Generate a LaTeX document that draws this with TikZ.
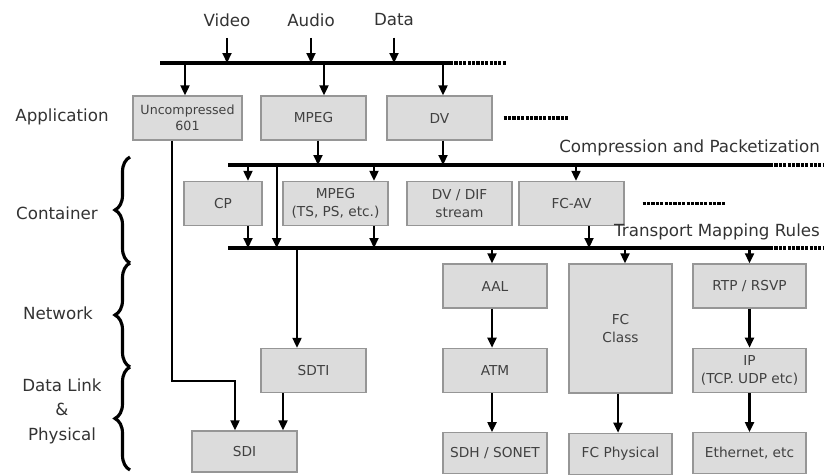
\documentclass[tikz,border=0pt]{standalone}
\usepackage{fontspec}
\setmainfont{DejaVu Sans}
\usepackage{xcolor}
\usetikzlibrary{arrows.meta,positioning,decorations.pathreplacing}
\definecolor{boxgray}{RGB}{220,220,220}
\definecolor{edgegray}{RGB}{150,150,150}
\definecolor{textgray}{RGB}{65,65,65}

\begin{document}
\begin{tikzpicture}[
  x=0.02cm,y=-0.02cm,
  node distance=0.78cm,
  box/.style={draw=edgegray,line width=0.8pt,fill=boxgray,align=center,
              minimum width=2.1cm,minimum height=0.88cm,inner sep=1pt,
              text=textgray,font=\fontsize{7.8}{10}\selectfont},
  lowbox/.style={box,minimum height=0.82cm},
  lbl/.style={text=black!80,align=center,font=\fontsize{9.5}{11}\selectfont},
  bus/.style={line width=2pt},
  etcline/.style={line width=2.2pt,dash pattern=on 1.8pt off 0.7pt},
  arr/.style={line width=1.2pt,-{Triangle[length=2mm,width=1.8mm]}},
  brc/.style={line width=1.8pt,decorate,decoration={brace,amplitude=0.3cm}},
  >=Latex]
\useasboundingbox (0,0) rectangle (830,474);
\node[lbl] (video) at (227,20) {Video};
\node[lbl] (audio) at (311,20) {Audio};
\node[lbl] (data) at (394,20) {Data};
\node[lbl] (app) at (62,117) {Application};
\node[lbl] (cont) at (57,213) {Container};
\node[lbl] (net) at (58,313) {Network};
\node[lbl,font=\fontsize{9.5}{14}\selectfont] (dlp) at (62,411) {Data Link\\\&\\Physical};
\node[box,minimum width=2.18cm,font=\fontsize{7.2}{9}\selectfont] (unc) at (187.5,118) {Uncompressed\\601};
\node[box] (mpega) at (313.5,118) {MPEG};
\node[box] (dv) at (439.5,118) {DV};
\node[box,minimum width=1.56cm] (cp) at (223,203.5) {CP};
\node[box] (mpegb) at (335.5,203.5) {MPEG\\(TS, PS, etc.)};
\node[box] (dvdif) at (459.5,203.5) {DV / DIF\\stream};
\node[box] (fcav) at (571.5,203.5) {FC-AV};
\node[box,minimum width=2.08cm] (aal) at (495,286) {AAL};
\node[box,minimum width=2.08cm,below=of aal] (atm) {ATM};
\node[lowbox,minimum width=2.08cm,below=of atm] (sdh) {SDH / SONET};
\node[box,minimum width=2.06cm,minimum height=2.58cm] (fcclass) at (620.5,328.5) {FC\\Class};
\node[lowbox,minimum width=2.06cm,below=of fcclass] (fcphys) {FC Physical};
\node[box,minimum width=2.26cm] (rtp) at (749.5,286) {RTP / RSVP};
\node[box,minimum width=2.26cm,below=of rtp] (ip) {IP\\(TCP. UDP etc)};
\node[lowbox,minimum width=2.26cm,below=of ip] (eth) {Ethernet, etc};
\node[box] (sdti) at (313.5,370.5) {SDTI};
\node[lowbox] (sdi) at (244.5,451.5) {SDI};
\node[lbl,anchor=east] (comp) at (826,148) {Compression and Packetization};
\node[lbl,anchor=east] (tmr) at (826,232) {Transport Mapping Rules};
\coordinate (tb0) at (160,63);
\coordinate (tb1) at (450,63);
\coordinate (cb0) at (228,165);
\coordinate (cb1) at (770,165);
\coordinate (mb0) at (228,248);
\coordinate (mb1) at (770,248);
\coordinate (bend) at (235,381);
\coordinate (l0) at (130,157);
\coordinate (l1) at (130,263);
\coordinate (l2) at (130,367);
\coordinate (l3) at (130,470);
\draw[bus] (tb0) -- (tb1);
\draw[bus] (cb0) -- (cb1);
\draw[bus] (mb0) -- (mb1);
\draw[etcline] (tb1) -- ++(57,0);
\draw[etcline] (cb1) -- ++(54,0);
\draw[etcline] (mb1) -- ++(54,0);
\draw[etcline] ([xshift=0.22cm]dv.east) -- ++(64,0);
\draw[etcline] ([xshift=0.36cm]fcav.east) -- ++(82,0);
\foreach \n in {video,audio,data}
  \draw[arr] ([yshift=-3pt]\n.south) -- (\n.south |- tb0);
\foreach \n/\s in {unc/-0.05,mpega/0.21,dv/0.07}
  \draw[arr] ([xshift=\s cm]\n.north |- tb0) -- ([xshift=\s cm]\n.north);
\foreach \n/\s in {mpega/0.09,dv/0.07}
  \draw[arr] ([xshift=\s cm]\n.south) -- ([xshift=\s cm]\n.south |- cb0);
\foreach \n/\s in {cp/0.5,mpegb/0.77,fcav/0.09}
  \draw[arr] ([xshift=\s cm]\n.north |- cb0) -- ([xshift=\s cm]\n.north);
\foreach \n/\s in {cp/0.5,mpegb/0.77,fcav/0.35}
  \draw[arr] ([xshift=\s cm]\n.south) -- ([xshift=\s cm]\n.south |- mb0);
\draw[arr] ([xshift=0.28cm]cp.east |- cb0) -- ([xshift=0.28cm]cp.east |- mb0);
\foreach \n/\s in {sdti/-0.33,aal/-0.06,fcclass/0.09,rtp/0}
  \draw[arr] ([xshift=\s cm]\n.north |- mb0) -- ([xshift=\s cm]\n.north);
\draw[arr] ([xshift=-0.06cm]aal.south) -- ([xshift=-0.06cm]atm.north);
\draw[arr] ([xshift=-0.06cm]atm.south) -- ([xshift=-0.06cm]sdh.north);
\draw[arr] ([xshift=-0.05cm]fcclass.south) -- ([xshift=-0.05cm]fcphys.north);
\draw[arr] (rtp) -- (ip);
\draw[arr] (ip) -- (eth);
\draw[arr] ([xshift=-0.61cm]sdti.south) -- ([xshift=-0.61cm]sdti.south |- sdi.north);
\draw[arr] ([xshift=-0.31cm]unc.south) |- (bend) -- (bend |- sdi.north);
\draw[brc] (l1) -- (l0);
\draw[brc] (l2) -- (l1);
\draw[brc] (l3) -- (l2);
\end{tikzpicture}
\end{document}
